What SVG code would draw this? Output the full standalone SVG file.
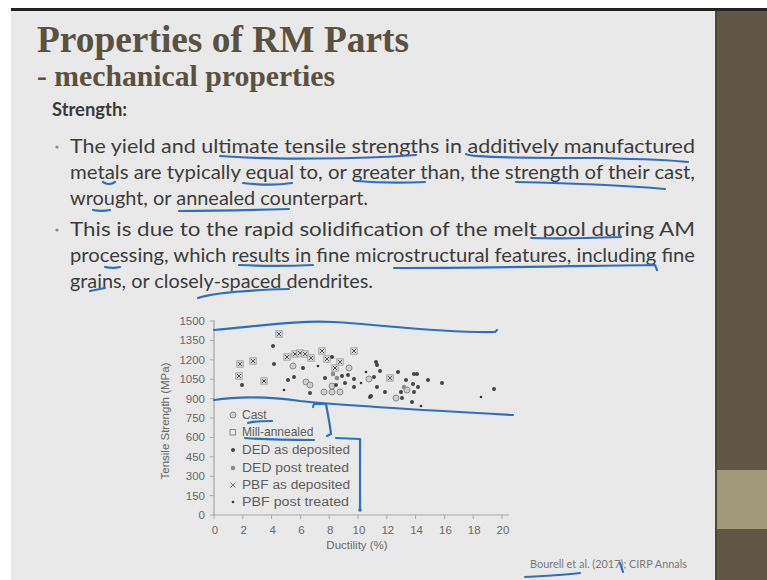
<svg xmlns="http://www.w3.org/2000/svg" xmlns:xlink="http://www.w3.org/1999/xlink" width="767" height="580" viewBox="0 0 767 580">
  <style>
    .title { font-family: "Liberation Serif", "DejaVu Serif", serif; font-weight: bold; fill: #5a5141; }
    .head { font-family: Lato, "Open Sans", sans-serif; font-weight: bold; fill: #3a3a3a; font-size: 18px; }
    .body { font-family: Lato, "Open Sans", sans-serif; fill: #3c3c3c; font-size: 19px; }
    .ax { font-family: "Liberation Sans", Arial, sans-serif; fill: #6a6a6a; font-size: 11.5px; }
    .leg { font-family: "Liberation Sans", Arial, sans-serif; fill: #5e5e5e; font-size: 12px; }
    .cite { font-family: Lato, "Open Sans", sans-serif; fill: #7a7a7a; font-size: 10.5px; }
    .axis { stroke: #a8a8a8; stroke-width: 1.2; fill: none; }
    .tick { stroke: #a8a8a8; stroke-width: 1; }
    .pen { stroke: #2f6fc2; stroke-width: 2.2; fill: none; stroke-linecap: round; stroke-linejoin: round; }
  </style>
  <defs>
    <!-- scatter symbols -->
    <g id="pbf">
      <rect x="-3.2" y="-3.2" width="6.4" height="6.4" fill="#dadada" stroke="#9a9a9a" stroke-width="0.8"/>
      <path d="M-2,-2 L2,2 M-2,2 L2,-2" stroke="#555" stroke-width="1"/>
    </g>
    <circle id="ded" r="2" fill="#454545"/>
    <circle id="cast" r="3" fill="#cfcfcf" stroke="#8a8a8a" stroke-width="1"/>
    <circle id="dpt" r="2.3" fill="#8c8c8c"/>
    <circle id="ppt" r="1.3" fill="#3a3a3a"/>
  </defs>

  <!-- page frame -->
  <rect width="767" height="580" fill="#ffffff"/>
  <rect x="11" y="8" width="756" height="3" fill="#222"/>
  <rect x="11" y="11" width="705" height="569" fill="#e9e9e9"/>
  <rect x="716" y="11" width="51" height="569" fill="#5f5644"/>
  <rect x="716" y="470" width="51" height="59" fill="#a09a79"/>
  <rect x="715" y="11" width="2" height="569" fill="#4e4637"/>

  <!-- headings -->
  <g id="heading">
    <text class="title" x="37" y="52" font-size="38" textLength="372" lengthAdjust="spacingAndGlyphs">Properties of RM Parts</text>
    <text class="title" x="37" y="86" font-size="30" textLength="298" lengthAdjust="spacingAndGlyphs">- mechanical properties</text>
    <text class="head" x="52" y="116" textLength="75" lengthAdjust="spacingAndGlyphs">Strength:</text>
  </g>

  <!-- bullet text -->
  <g id="bullets">
    <circle cx="57" cy="147" r="1.6" fill="#8a8a8a"/>
    <circle cx="57" cy="230" r="1.6" fill="#8a8a8a"/>
    <text class="body" x="70" y="153" textLength="625" lengthAdjust="spacingAndGlyphs">The yield and ultimate tensile strengths in additively manufactured</text>
    <text class="body" x="70" y="179" textLength="625" lengthAdjust="spacingAndGlyphs">metals are typically equal to, or greater than, the strength of their cast,</text>
    <text class="body" x="70" y="205" textLength="298" lengthAdjust="spacingAndGlyphs">wrought, or annealed counterpart.</text>
    <text class="body" x="70" y="236" textLength="625" lengthAdjust="spacingAndGlyphs">This is due to the rapid solidification of the melt pool during AM</text>
    <text class="body" x="70" y="262" textLength="625" lengthAdjust="spacingAndGlyphs">processing, which results in fine microstructural features, including fine</text>
    <text class="body" x="70" y="288" textLength="303" lengthAdjust="spacingAndGlyphs">grains, or closely-spaced dendrites.</text>
  </g>

  <!-- chart axes -->
  <g id="axes">
    <path class="axis" d="M214,320 V515 H509"/>
    <path class="tick" d="M210,321.0h4M210,340.4h4M210,359.8h4M210,379.2h4M210,398.6h4M210,418.0h4M210,437.4h4M210,456.8h4M210,476.2h4M210,495.6h4M210,515h4"/>
    <path class="tick" d="M214,515v4M242.8,515v4M271.6,515v4M300.4,515v4M329.2,515v4M358,515v4M386.8,515v4M415.6,515v4M444.4,515v4M473.2,515v4M502,515v4"/>
    <g class="ax" text-anchor="end">
      <text x="205" y="325">1500</text>
      <text x="205" y="344.4">1350</text>
      <text x="205" y="363.8">1200</text>
      <text x="205" y="383.2">1050</text>
      <text x="205" y="402.6">900</text>
      <text x="205" y="422">750</text>
      <text x="205" y="441.4">600</text>
      <text x="205" y="460.8">450</text>
      <text x="205" y="480.2">300</text>
      <text x="205" y="499.6">150</text>
      <text x="205" y="519">0</text>
    </g>
    <g class="ax" text-anchor="middle">
      <text x="215" y="534">0</text>
      <text x="243.8" y="534">2</text>
      <text x="272.6" y="534">4</text>
      <text x="301.4" y="534">6</text>
      <text x="330.2" y="534">8</text>
      <text x="359" y="534">10</text>
      <text x="387.8" y="534">12</text>
      <text x="416.6" y="534">14</text>
      <text x="445.4" y="534">16</text>
      <text x="474.2" y="534">18</text>
      <text x="503" y="534">20</text>
      <text x="357" y="549">Ductility (%)</text>
      <text transform="translate(169,421) rotate(-90)">Tensile Strength (MPa)</text>
    </g>
  </g>

  <!-- scatter data -->
  <g id="points">
    <use href="#pbf" x="279" y="334"/>
    <use href="#pbf" x="240" y="364"/>
    <use href="#pbf" x="253" y="361"/>
    <use href="#pbf" x="239" y="376"/>
    <use href="#pbf" x="264" y="381"/>
    <use href="#pbf" x="287" y="357"/>
    <use href="#pbf" x="295" y="354"/>
    <use href="#pbf" x="300" y="353"/>
    <use href="#pbf" x="305" y="354"/>
    <use href="#pbf" x="311" y="358"/>
    <use href="#pbf" x="322" y="351"/>
    <use href="#pbf" x="327" y="359"/>
    <use href="#pbf" x="340" y="362"/>
    <use href="#pbf" x="354" y="351"/>
    <use href="#pbf" x="335" y="368"/>
    <use href="#pbf" x="390" y="378"/>

    <use href="#cast" x="293" y="366"/>
    <use href="#cast" x="306" y="382"/>
    <use href="#cast" x="310" y="385"/>
    <use href="#cast" x="324" y="392"/>
    <use href="#cast" x="332" y="392"/>
    <use href="#cast" x="340" y="392"/>
    <use href="#cast" x="332" y="386"/>
    <use href="#cast" x="349" y="368"/>
    <use href="#cast" x="369" y="379"/>
    <use href="#cast" x="407" y="390"/>
    <use href="#cast" x="396" y="398"/>

    <use href="#dpt" x="333" y="374"/>
    <use href="#dpt" x="337" y="378"/>
    <use href="#dpt" x="404" y="387"/>

    <use href="#ded" x="273" y="346"/>
    <use href="#ded" x="274" y="364"/>
    <use href="#ded" x="303" y="368"/>
    <use href="#ded" x="294" y="377"/>
    <use href="#ded" x="288" y="380"/>
    <use href="#ded" x="242" y="385"/>
    <use href="#ded" x="325" y="378"/>
    <use href="#ded" x="332" y="357"/>
    <use href="#ded" x="342" y="376"/>
    <use href="#ded" x="348" y="375"/>
    <use href="#ded" x="354" y="379"/>
    <use href="#ded" x="354" y="387"/>
    <use href="#ded" x="345" y="383"/>
    <use href="#ded" x="336" y="385"/>
    <use href="#ded" x="310" y="393"/>
    <use href="#ded" x="371" y="396"/>
    <use href="#ded" x="376" y="362"/>
    <use href="#ded" x="377" y="365"/>
    <use href="#ded" x="380" y="371"/>
    <use href="#ded" x="374" y="377"/>
    <use href="#ded" x="398" y="372"/>
    <use href="#ded" x="377" y="387"/>
    <use href="#ded" x="370" y="397"/>
    <use href="#ded" x="385" y="392"/>
    <use href="#ded" x="406" y="380"/>
    <use href="#ded" x="414" y="374"/>
    <use href="#ded" x="417" y="374"/>
    <use href="#ded" x="413" y="384"/>
    <use href="#ded" x="418" y="387"/>
    <use href="#ded" x="401" y="392"/>
    <use href="#ded" x="414" y="392"/>
    <use href="#ded" x="402" y="398"/>
    <use href="#ded" x="412" y="402"/>
    <use href="#ded" x="428" y="380"/>
    <use href="#ded" x="442" y="383"/>
    <use href="#ded" x="494" y="389"/>

    <use href="#ppt" x="481" y="397"/>
    <use href="#ppt" x="421" y="406"/>
    <use href="#ppt" x="361" y="383"/>
    <use href="#ppt" x="366" y="372"/>
    <use href="#ppt" x="318" y="366"/>
    <use href="#ppt" x="284" y="390"/>
  </g>

  <!-- legend -->
  <g id="legend">
    <use href="#cast" x="233" y="415"/>
    <text class="leg" x="242" y="419">Cast</text>
    <rect x="230" y="429.5" width="5.5" height="5.5" fill="none" stroke="#8a8a8a" stroke-width="1"/>
    <text class="leg" x="242" y="436.3">Mill-annealed</text>
    <use href="#ded" x="233" y="450"/>
    <text class="leg" x="242" y="454" textLength="108" lengthAdjust="spacingAndGlyphs">DED as deposited</text>
    <use href="#dpt" x="233" y="468"/>
    <text class="leg" x="242" y="472" textLength="107" lengthAdjust="spacingAndGlyphs">DED post treated</text>
    <path d="M230.5,482.5 L235.5,487.5 M230.5,487.5 L235.5,482.5" stroke="#777" stroke-width="1"/>
    <text class="leg" x="242" y="489" textLength="108" lengthAdjust="spacingAndGlyphs">PBF as deposited</text>
    <use href="#ppt" x="233" y="502"/>
    <text class="leg" x="242" y="506" textLength="107" lengthAdjust="spacingAndGlyphs">PBF post treated</text>
  </g>

  <!-- citation -->
  <g id="citation">
    <text class="cite" x="530" y="568" textLength="157" lengthAdjust="spacingAndGlyphs">Bourell et al. (2017); CIRP Annals</text>
  </g>

  <!-- hand-drawn pen marks -->
  <g id="pen">
    <!-- text underlines -->
    <path class="pen" d="M220,156 C270,160 360,159 416,155"/>
    <path class="pen" d="M466,154 C470,158 540,158 600,158 C640,159 670,160 688,162"/>
    <path class="pen" d="M103,182 C107,185 112,184 115,182"/>
    <path class="pen" d="M243,183 C260,185 280,185 292,183"/>
    <path class="pen" d="M356,181 C380,183 405,183 425,182"/>
    <path class="pen" d="M516,182 C560,183 620,185 665,189"/>
    <path class="pen" d="M93,210 C98,211 105,211 110,210"/>
    <path class="pen" d="M179,211 C210,211 255,210 289,209"/>
    <path class="pen" d="M531,238 C560,239 595,238 621,237 L619,234"/>
    <path class="pen" d="M105,267 C110,268 116,268 120,267"/>
    <path class="pen" d="M239,265 C260,266 290,266 313,265"/>
    <path class="pen" d="M394,268 C480,268 580,266 655,265 L657,270"/>
    <path class="pen" d="M90,291 C95,290 100,289 105,288"/>
    <path class="pen" d="M198,298 C215,292 250,290 289,289"/>
    <!-- chart band and brackets -->
    <path class="pen" d="M214,330 C260,326 300,320 333,322 C380,324 430,333 495,332 L497,330"/>
    <path class="pen" d="M214,400 C240,396 270,397 300,401 C340,405 420,410 513,415"/>
    <path class="pen" d="M248,423 C255,421 265,421 272,421"/>
    <path class="pen" d="M245,438 C270,440 295,440 314,440"/>
    <path class="pen" d="M313,407 L314,404 L326,404 C328,415 330,425 331,434 L327,436"/>
    <path class="pen" d="M336,438 L360,439 L360,510"/>
    <circle cx="360" cy="510" r="1.8" fill="#2f6fc2"/>
    <!-- citation underline and blot -->
    <path class="pen" d="M525,577 C545,576 565,575 580,573"/>
    <path class="pen" stroke-width="3.5" d="M620,563 L622,569 L623,572"/>
  </g>
</svg>
